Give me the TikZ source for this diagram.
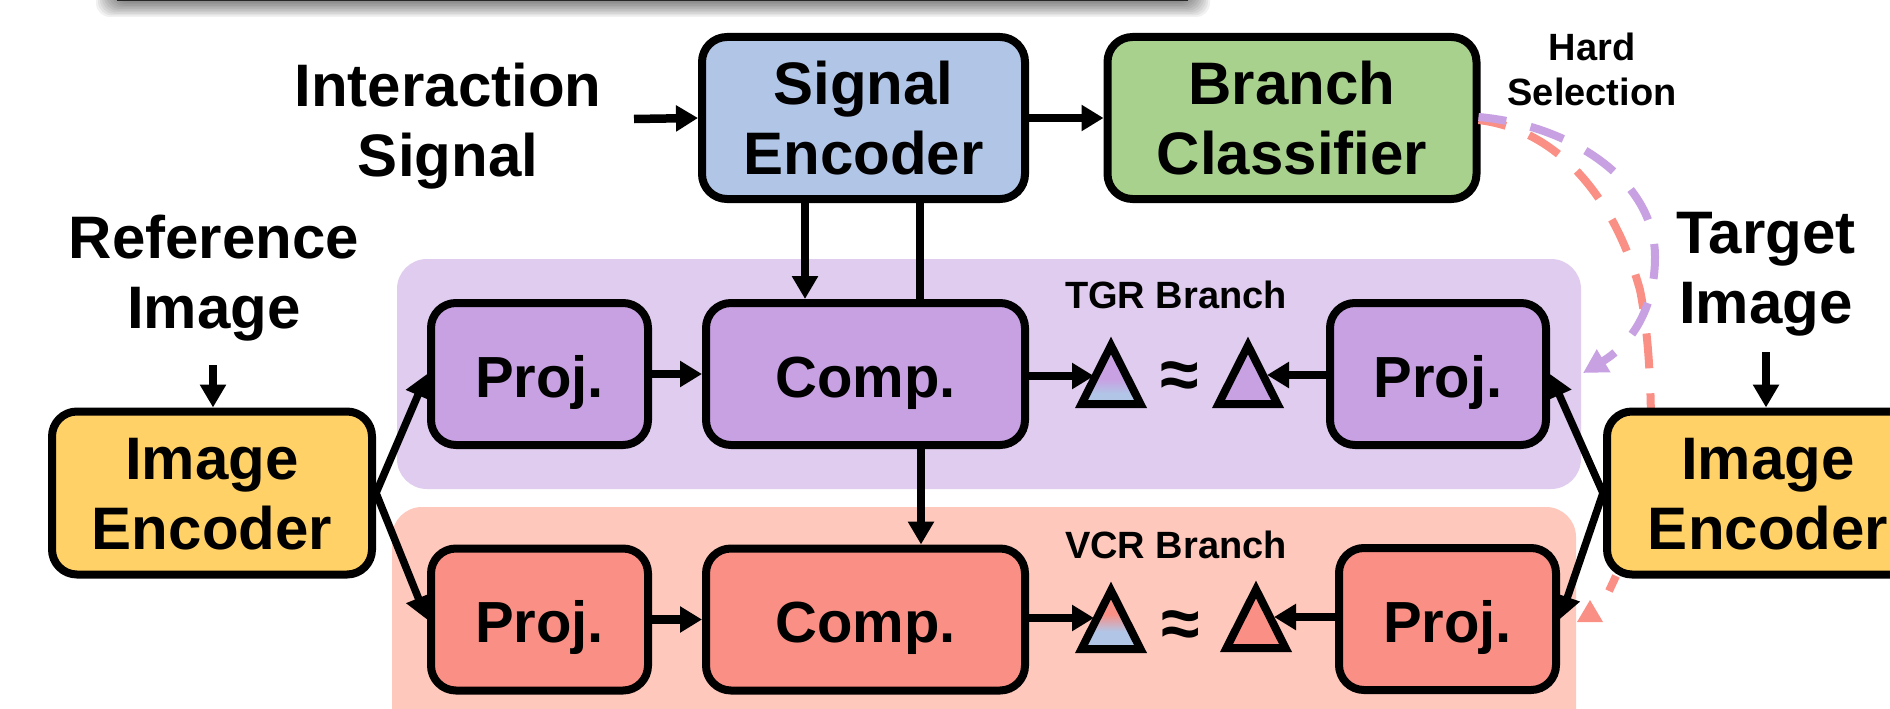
\documentclass[tikz,border=0pt]{standalone}
\usepackage{fontspec}
\setmainfont{Liberation Sans}
\usetikzlibrary{arrows.meta}
\definecolor{cblue}{HTML}{B1C5E7}
\definecolor{cgreen}{HTML}{A9D18E}
\definecolor{cyellow}{HTML}{FFD166}
\definecolor{cpurple}{HTML}{C7A1E2}
\definecolor{cpurplebg}{HTML}{E0CCEF}
\definecolor{csalmon}{HTML}{FA9085}
\definecolor{csalmonbg}{HTML}{FEC8BC}
\pgfdeclareverticalshading{purpleblue}{100bp}{color(0bp)=(cblue); color(34bp)=(cblue); color(46bp)=(cpurple); color(100bp)=(cpurple)}
\pgfdeclareverticalshading{salmonblue}{100bp}{color(0bp)=(cblue); color(40bp)=(cblue); color(55bp)=(csalmon); color(100bp)=(csalmon)}
\newcommand{\LL}{\rule[-14pt]{0pt}{70pt}}
\newcommand{\SL}{\rule[-11pt]{0pt}{70pt}}
\newcommand{\TL}{\rule[-9pt]{0pt}{45pt}}
\tikzset{
  x=1pt,y=-1pt,
  bigtext/.style={font=\fontsize{60}{70}\selectfont\bfseries,align=center,inner sep=0pt,text=black},
  smalltext/.style={font=\fontsize{38}{45}\selectfont\bfseries,align=center,inner sep=0pt,text=black},
  box/.style={bigtext,draw=black,line width=8pt,rounded corners=25pt},
  shortbox/.style={box,font=\fontsize{58}{70}\selectfont\bfseries},
  wire/.style={draw=black,line width=8.5pt,-{Triangle[length=22pt,width=25pt]}},
  thinwire/.style={draw=black,line width=7.5pt,-{Triangle[length=23pt,width=25pt]}},
  bar/.style={draw=black,line width=8pt},
  tri/.style={draw=black,line width=8pt,line join=miter,miter limit=10},
  dashp/.style={draw=cpurple,line width=8pt,dash pattern=on 35pt off 25pt,dash phase=7pt},
  dashs/.style={draw=csalmon,line width=8pt,dash pattern=on 35pt off 25pt,dash phase=7pt},
  bgpanel/.style={rounded corners=30pt},
}
\begin{document}
\begin{tikzpicture}
\clip (0,0) rectangle (1890,709);
\fill[white] (0,0) rectangle (1890,709);
% top box remnant with soft shadow
\foreach \m in {2,4,...,20}{
  \fill[black,opacity=0.055,rounded corners=14pt] (116-\m,-60) rectangle (1190+\m,1+\m*0.8);
}
\fill[black!85] (117,-5) rectangle (1188,1.5);
% branch panels
\fill[cpurplebg,bgpanel] (397,259) rectangle (1581,489);
\fill[csalmonbg,bgpanel] (392,507) rectangle (1576,760);
% coordinates
\coordinate (sa) at (805,0);
\coordinate (sb) at (920,0);
\coordinate (sc) at (921,0);
\coordinate (intend) at (634,119);
\coordinate (refend) at (213,365);
\coordinate (tarend) at (1766,352);
\coordinate (sq) at (1651,430);
\coordinate (sp) at (1616,576);
\coordinate (send) at (1609,591);
\coordinate (pq) at (1655,257);
\coordinate (pend) at (1583,373);
% nodes
\node[bigtext] (lint) at (448,120) {\LL Interaction\\\LL Signal};
\node[bigtext] (lref) at (214,272) {\LL Reference\\\LL Image};
\node[bigtext] (ltar) at (1766,267) {\LL Target\\\LL Image};
\node[smalltext] (lhard) at (1592,70) {\TL Hard\\\TL Selection};
\node[smalltext,anchor=base] (ltgr) at (1176,308) {TGR Branch};
\node[smalltext,anchor=base] (lvcr) at (1176,558) {VCR Branch};
\node[box,fill=cblue,minimum width=323pt,minimum height=162pt] (sig) at (863.5,118) {\LL Signal\\\LL Encoder};
\node[box,fill=cgreen,minimum width=369pt,minimum height=162pt] (bc) at (1292,118) {\LL Branch\\\LL Classifier};
% dashed selection curves
\path[dashs] (bc.east) ++(-2,2) .. controls (1560,130) and (1615,200) .. (1640,290)
  .. controls (1648,330) and (1651,380) .. (sq);
\draw[csalmon,line width=8pt] (sp) -- (send);
\fill[csalmon] (1590,600) -- (1603,622) -- (1577,622) -- cycle;
\path[dashp,-{Triangle[length=24pt,width=25pt]}] (bc.east) ++(-2,-1) .. controls (1570,125) and (1655,180) .. (pq)
  .. controls (1655,310) and (1630,345) .. (pend);
% boxes
\node[shortbox,fill=cpurple,minimum width=217pt,minimum height=142pt] (pl) at (539.5,374) {\SL Proj.};
\node[shortbox,fill=cpurple,minimum width=319pt,minimum height=142pt] (pc) at (865.5,374) {\SL Comp.};
\node[shortbox,fill=cpurple,minimum width=216pt,minimum height=142pt] (pr) at (1438,374) {\SL Proj.};
\node[shortbox,fill=csalmon,minimum width=217pt,minimum height=142pt] (sl) at (539.5,619.5) {\SL Proj.};
\node[shortbox,fill=csalmon,minimum width=319pt,minimum height=142pt] (sc2) at (865.5,619.5) {\SL Comp.};
\node[shortbox,fill=csalmon,minimum width=217pt,minimum height=142pt] (sr) at (1447.5,619) {\SL Proj.};
\node[box,fill=cyellow,minimum width=320pt,minimum height=163pt] (iel) at (212,493) {\LL Image\\\LL Encoder};
\node[box,fill=cyellow,minimum width=322pt,minimum height=163pt] (ier) at (1768,493) {\LL Image\\\LL Encoder};
% triangles
\shadedraw[tri,shading=purpleblue] (1111,345.5) -- (1140.5,404) -- (1081.5,404) -- cycle;
\path[tri,fill=cpurple] (1248,345.5) -- (1277.5,404) -- (1218.5,404) -- cycle;
\shadedraw[tri,shading=salmonblue] (1111,590.5) -- (1140.5,649) -- (1081.5,649) -- cycle;
\path[tri,fill=csalmon] (1256,589.5) -- (1285.5,648) -- (1226.5,648) -- cycle;
\coordinate (t1) at (1094,376);
\coordinate (t2) at (1267,375);
\coordinate (t3) at (1094,618);
\coordinate (t4) at (1274,617);
\node[font=\fontsize{70}{70}\selectfont\bfseries,inner sep=0pt] (ap1) at (1180,380) {≈};
\node[font=\fontsize{70}{70}\selectfont\bfseries,inner sep=0pt] (ap2) at (1181,629) {≈};
% connectors
\draw[wire] (intend) -- (sig.west);
\draw[wire] (sig.east) -- (bc.west);
\draw[thinwire] (sa |- sig.south) -- (sa |- pc.north);
\draw[bar] (sb |- sig.south) -- (sb |- pc.north);
\draw[thinwire] (sc |- pc.south) -- (sc |- sc2.north);
\draw[thinwire] (refend) -- (refend |- iel.north);
\draw[thinwire] (tarend) -- (tarend |- ier.north);
\draw[wire] (pl.east) -- (pc.west);
\draw[wire] (sl.east) -- (sc2.west);
\draw[wire] (pc.east |- t1) -- (t1);
\draw[wire] (sc2.east |- t3) -- (t3);
\draw[wire] (pr.west |- t2) -- (t2);
\draw[wire] (sr.west |- t4) -- (t4);
\draw[thinwire] (iel.east) -- (pl.west);
\draw[thinwire] (iel.east) -- (sl.west);
\draw[thinwire] (ier.west) -- (pr.east);
\draw[thinwire] (ier.west) -- (sr.east);
\end{tikzpicture}
\end{document}
